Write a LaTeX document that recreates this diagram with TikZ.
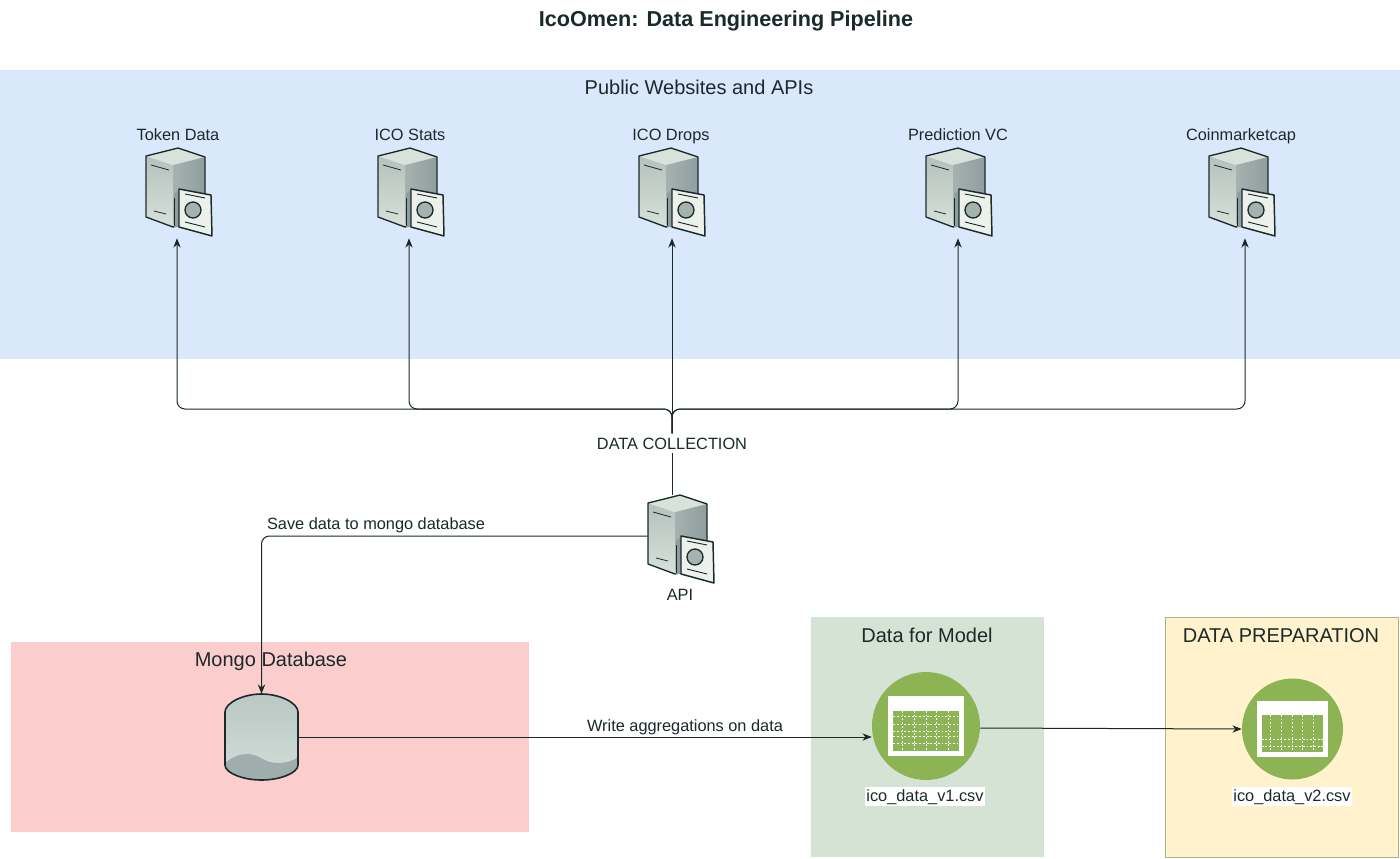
\documentclass[tikz,border=0pt]{standalone}
\usepackage{fontspec}
\setmainfont{Liberation Sans}
\usetikzlibrary{arrows.meta}
\definecolor{blueBg}{HTML}{DAE8FC}
\definecolor{redBg}{HTML}{FBCDCC}
\definecolor{greenBg}{HTML}{D5E3D4}
\definecolor{yellowBg}{HTML}{FFF2CC}
\definecolor{yellowEdge}{HTML}{A9B586}
\definecolor{leaf}{HTML}{8CB455}
\definecolor{ink}{HTML}{1A2A2A}
\definecolor{srvLa}{HTML}{B4C1BC}
\definecolor{srvLb}{HTML}{D8E1DB}
\definecolor{srvT}{HTML}{D8E2DA}
\definecolor{srvRa}{HTML}{A5B2B0}
\definecolor{srvRb}{HTML}{8F9D9E}
\definecolor{card}{HTML}{EDF1EC}
\definecolor{dbA}{HTML}{B9C8C4}
\definecolor{dbC}{HTML}{D2DED8}
\definecolor{dbB}{HTML}{A0ADAD}
\tikzset{
  x=0.75pt,y=-0.75pt,
  line/.style={draw=ink,line width=0.75pt},
  arr/.style={line,-{Stealth[length=7pt,width=5.5pt]},rounded corners=6pt},
  lbl/.style={font=\fontsize{12.25}{14}\selectfont,text=ink,inner sep=0pt,anchor=base},
  filelbl/.style={lbl,fill=white,inner xsep=0.75pt,inner ysep=1.5pt},
  head/.style={font=\fontsize{15}{17}\selectfont,text=ink,inner sep=0pt,anchor=base},
  srv/.style={minimum width=36pt,minimum height=67.5pt,inner sep=0pt},
  pics/server/.style={code={
    \shade[top color=srvLa,bottom color=srvLb] (-32,8) -- (-5,17) -- (-5,79) -- (-32,69) -- cycle;
    \fill[srvT] (0,0) -- (-32,8) -- (-5,17) -- (27,9) -- cycle;
    \shade[left color=srvRa,right color=srvRb] (-5,17) -- (27,9) -- (27,50) -- (1,50) -- (-5,79) -- cycle;
    \draw[ink,line width=1pt,line join=round] (0,0) -- (-32,8) -- (-32,69) -- (-5,79) -- (27,70) -- (27,9) -- cycle;
    \draw[ink,line width=0.6pt] (-27,17) -- (-9,22) (-24,63) -- (-12,66);
    \fill[srvRb] (-4,46) -- (1,41) -- (1,79) -- (-4,79) -- cycle;
    \draw[ink,line width=0.5pt] (-4,50) -- (-4,78);
    \fill[card] (1,41) -- (33,47) -- (34,88) -- (1,79) -- cycle;
    \draw[ink,line width=1.1pt,line join=round] (1,41) -- (33,47) -- (34,88) -- (1,79) -- cycle;
    \draw[ink,line width=0.7pt] (7,46) -- (27,50) (7,74) -- (27,79);
    \draw[ink,fill=srvRa,line width=1pt] (15,62) circle[radius=8];
  }},
  griddots/.style={white,line width=0.5pt,dash pattern=on 1.4pt off 1.4pt},
  pics/sheet/.style 2 args={code={
    \fill[leaf] (0,0) circle[radius=#1];
    \fill[white] (-0.70*#1,-0.56*#1) rectangle (0.70*#1,0.56*#1);
    \fill[leaf] (-0.61*#1,-0.28*#1) rectangle (0.61*#1,0.46*#1);
    \foreach \i in {-0.43,-0.22,0,0.2,0.41}
      \draw[griddots] (\i*#1,-0.28*#1) -- (\i*#1,0.46*#1);
    \foreach \j in {#2}
      \draw[griddots] (-0.61*#1,\j*#1) -- (0.61*#1,\j*#1);
  }}
}
\begin{document}
\begin{tikzpicture}
\useasboundingbox (0,0) rectangle (1400,858);
\fill[white] (0,0) rectangle (1400,858);
% regions
\node[fill=blueBg,minimum width=1050pt,minimum height=216.75pt,inner sep=0pt,anchor=north west] (webs) at (0,70) {};
\node[fill=redBg,minimum width=388.5pt,minimum height=142.5pt,inner sep=0pt,anchor=north west] (mongo) at (11,642) {};
\node[fill=greenBg,minimum width=174.75pt,minimum height=180pt,inner sep=0pt,anchor=north west] (model) at (811,617) {};
\node[fill=yellowBg,draw=yellowEdge,line width=0.6pt,minimum width=174.75pt,minimum height=180pt,inner sep=0pt,anchor=north west] (prep) at (1165,617) {};
% texts
\node[font=\bfseries\fontsize{16.2}{18}\selectfont,text=ink,inner sep=0pt,anchor=base] (title) at (726,26) {IcoOmen: Data Engineering Pipeline};
\node[head] (websT) at (699,94) {Public Websites and APIs};
\node[head] (mongoT) at (271,666) {Mongo Database};
\node[head] (modelT) at (927,642) {Data for Model};
\node[head] (prepT) at (1281,642) {DATA PREPARATION};
\node[lbl] (t1) at (178,140) {Token Data};
\node[lbl] (t2) at (410,140) {ICO Stats};
\node[lbl] (t3) at (671,140) {ICO Drops};
\node[lbl] (t4) at (958,140) {Prediction VC};
\node[lbl] (t5) at (1241,140) {Coinmarketcap};
% servers
\foreach \x in {178,410,671,958,1241}
  \pic at (\x,148) {server};
\node[srv] (tok) at (177,193) {};
\node[srv] (sta) at (409,193) {};
\node[srv] (dro) at (672,193) {};
\node[srv] (pre) at (958,193) {};
\node[srv] (coi) at (1245,193) {};
\pic at (680,495) {server};
\node[srv,minimum height=61.5pt] (api) at (672,536) {};
\node[lbl] (apiT) at (680,600) {API};
% database
\node[minimum width=54.75pt,minimum height=64.5pt,inner sep=0pt] (db) at (261.5,737) {};
\begin{scope}
\path[clip] (225,712) .. controls (225,703) and (243,694) .. (261.5,694) .. controls (280,694) and (298,703) .. (298,712) -- (298,765) .. controls (298,773) and (280,780) .. (261.5,780) .. controls (243,780) and (225,773) .. (225,765) -- cycle;
\shade[top color=dbA,bottom color=dbC] (225,694) rectangle (298,780);
\fill[dbB] (225,763) .. controls (232,757) and (240,754) .. (247,754) .. controls (260,754) and (263,763) .. (278,763) .. controls (286,763) and (293,761) .. (298,757) -- (298,780) -- (225,780) -- cycle;
\end{scope}
\draw[ink,line width=1.2pt] (225,712) .. controls (225,703) and (243,694) .. (261.5,694) .. controls (280,694) and (298,703) .. (298,712) -- (298,765) .. controls (298,773) and (280,780) .. (261.5,780) .. controls (243,780) and (225,773) .. (225,765) -- cycle;
% sheets
\node[minimum size=81pt,inner sep=0pt,circle] (v1) at (926,726) {};
\pic at (926,726) {sheet={54}{-0.17,-0.04,0.09,0.2,0.33}};
\node[minimum size=75.75pt,inner sep=0pt,circle] (v2) at (1292.5,729) {};
\pic at (1292.5,729) {sheet={50.5}{0.21,0.35}};
\node[filelbl] (v1T) at (925,801) {ico\_data\_v1.csv};
\node[filelbl] (v2T) at (1292,801) {ico\_data\_v2.csv};
% connectors
\coordinate (hub) at (672,409);
\node[lbl,fill=white,inner ysep=3pt,inner xsep=1pt] (dc) at (672,449) {DATA COLLECTION};
\draw[line] (api.north) -- (dc.south);
\draw[arr] (dc.north) -- (dro.south);
\foreach \n in {tok,sta,pre,coi}
  \draw[arr] (dc.north) |- (hub -| \n.south) -- (\n.south);
\draw[arr] (api.west) -| (db.north);
\node[lbl] (save) at (376,529) {Save data to mongo database};
\draw[arr] (db.east) -- (v1.west |- db.east);
\node[lbl] (write) at (685,731) {Write aggregations on data};
\draw[arr] ([yshift=-1.5pt]v1.east) -- (v2.west);
\end{tikzpicture}
\end{document}
